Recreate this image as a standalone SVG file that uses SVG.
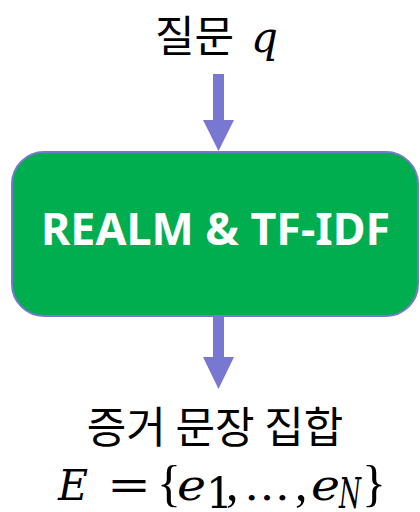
<svg xmlns="http://www.w3.org/2000/svg" width="420" height="512" viewBox="0 0 420 512">
<style>
.ko{font-family:"Noto Sans CJK KR","Noto Sans",sans-serif;font-size:43px;fill:#000}
.m{font-family:"DejaVu Serif","Liberation Serif",serif;font-style:italic;font-size:42px;fill:#000}
.mu{font-family:"DejaVu Serif","Liberation Serif",serif;font-size:42px;fill:#000}
.br{font-family:"Liberation Serif","DejaVu Serif",serif;font-size:50px;fill:#000}
.lbl{font-family:"Noto Sans","Open Sans",sans-serif;font-weight:bold;font-size:45px;fill:#fff}
.arr{fill:#7878d2}
</style>
<g id="connectors">
<path class="arr" d="M213,74 H224 V120 H234 L218.5,151 L203,120 H213 Z"/>
<path class="arr" d="M213,316 H224 V357 H234 L218.5,389 L203,357 H213 Z"/>
</g>
<g id="question">
<text x="155" y="52" class="ko">질문</text>
<text x="251" y="52" class="m" font-size="44">q</text>
</g>
<g id="retriever">
<rect x="12" y="152" width="406" height="164" rx="32" ry="32" fill="#00ae4f" stroke="#7878d2" stroke-width="2"/>
<text x="41" y="245" class="lbl" textLength="349" lengthAdjust="spacingAndGlyphs">REALM &amp; TF-IDF</text>
</g>
<g id="evidence">
<text x="215" y="443" class="ko" text-anchor="middle">증거 문장 집합</text>
<text x="58" y="500" class="m" textLength="30" lengthAdjust="spacingAndGlyphs">E</text>
<text x="107" y="500" class="mu" textLength="44" lengthAdjust="spacingAndGlyphs">=</text>
<text x="157" y="500" class="br">{</text>
<text x="177" y="500" class="m" textLength="29" lengthAdjust="spacingAndGlyphs">e</text>
<text x="206" y="508" class="mu" font-size="24">1</text>
<text x="226" y="500" class="br" font-size="46">,</text>
<text x="244" y="500" class="mu" textLength="46" lengthAdjust="spacingAndGlyphs">…</text>
<text x="295" y="500" class="br" font-size="46">,</text>
<text x="311" y="500" class="m" textLength="29" lengthAdjust="spacingAndGlyphs">e</text>
<text x="339" y="508" class="m" font-size="26" textLength="22" lengthAdjust="spacingAndGlyphs">N</text>
<text x="362" y="500" class="br">}</text>
</g>
</svg>
